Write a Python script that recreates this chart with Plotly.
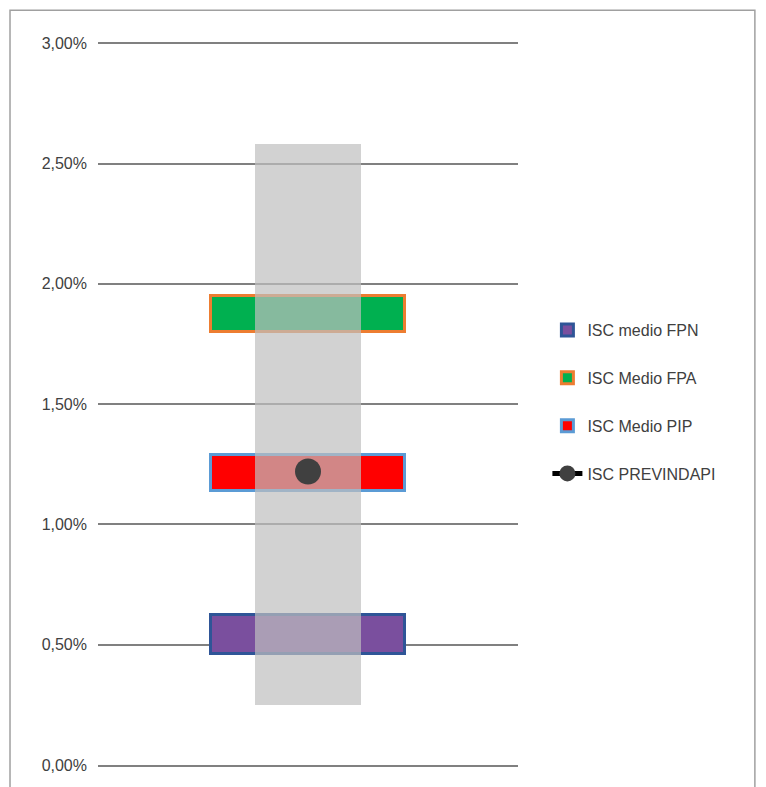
import plotly.graph_objects as go

series = ["ISC medio FPN", "ISC Medio FPA", "ISC Medio PIP"]
lows = [0.0046, 0.0180, 0.0114]
highs = [0.00625, 0.0195, 0.0129]
fills = ["#7a4f9e", "#00b050", "#ff0000"]
lines = ["#2f5597", "#ed7d31", "#5b9bd5"]
range_low, range_high = 0.0025, 0.0258
prev_name = "ISC PREVINDAPI"
prev_value = 0.0122
yticks = [0, 0.005, 0.01, 0.015, 0.02, 0.025, 0.03]

fig = go.Figure()
for i, (n, lo, hi, f, l) in enumerate(zip(series, lows, highs, fills, lines)):
    fig.add_trace(go.Bar(x=[0.5], y=[hi - lo], base=[lo], width=[0.46], name=n, legendgroup=f"g{i}",
                         marker=dict(color=f, line=dict(color=l, width=3)), hoverinfo="skip"))
fig.add_trace(go.Bar(x=[0.5], y=[range_high - range_low], base=[range_low], width=[0.253],
                     showlegend=False, marker=dict(color="rgba(191,191,191,0.7)", line=dict(width=0))))
fig.add_trace(go.Scatter(x=[0.5], y=[prev_value], mode="lines+markers", name=prev_name, legendgroup="g9",
                         line=dict(color="black", width=5),
                         marker=dict(color="#404040", size=26)))

fig.update_layout(
    width=766, height=787, barmode="overlay", bargap=0,
    margin=dict(l=90, r=256, t=34, b=30),
    paper_bgcolor="white", plot_bgcolor="white",
    separators=",.",
    font=dict(family="Liberation Sans", size=16, color="#404040"),
    xaxis=dict(range=[0, 1], showticklabels=False, showgrid=False, zeroline=False,
               showline=True, linecolor="#808080", linewidth=1.5),
    yaxis=dict(range=[0, 0.03005], tickvals=yticks, tickformat=".2%", showgrid=True,
               gridcolor="#808080", gridwidth=1.5, zeroline=False, ticks="",
               ticklabelstandoff=10, showline=False),
    legend=dict(x=1.07, y=0.625, yanchor="top", tracegroupgap=24,
                font=dict(size=16, color="#404040"), bgcolor="rgba(0,0,0,0)"),
    shapes=[dict(type="rect", xref="paper", yref="paper", x0=-0.2095, x1=1.564,
                 y0=-0.1, y1=1.044, line=dict(color="#a0a0a0", width=1.5))],
)
fig.write_html("out.html")
